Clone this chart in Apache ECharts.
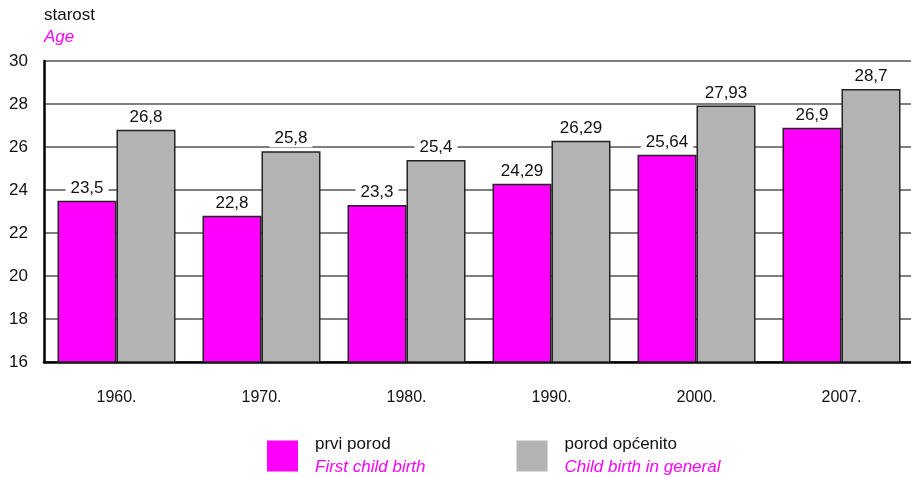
<!DOCTYPE html>
<html><head><meta charset="utf-8">
<script src="https://cdn.jsdelivr.net/npm/echarts@6/dist/echarts.min.js"></script>
<style>html,body{margin:0;padding:0;background:#fff}#c{width:911px;height:477px}</style>
</head><body><div id="c"></div>
<script>
const categories = ['1960.', '1970.', '1980.', '1990.', '2000.', '2007.'];
const firstBirth = [23.5, 22.8, 23.3, 24.29, 25.64, 26.9];
const birthGeneral = [26.8, 25.8, 25.4, 26.29, 27.93, 28.7];
const seriesNames = ['prvi porod', 'porod općenito'];
const seriesNamesEn = ['First child birth', 'Child birth in general'];
const yTicks = [16, 18, 20, 22, 24, 26, 28, 30];

const FONT = '"Liberation Sans", Arial, sans-serif';
const chart = echarts.init(document.getElementById('c'));
const fmt = v => String(v).replace('.', ',');
const lbl = {
  show: true, position: 'top', distance: 4,
  fontFamily: FONT, fontSize: 17, color: '#111',
  backgroundColor: '#fff', padding: [1, 5, 0, 5],
  formatter: p => fmt(p.value)
};
chart.setOption({
  animation: false,
  textStyle: { fontFamily: FONT },
  graphic: [
    { type: 'text', left: 44, top: 7, style: { text: 'starost', font: '17px ' + FONT, fill: '#111' } },
    { type: 'text', left: 44, top: 29, style: { text: 'Age', font: 'italic 17px ' + FONT, fill: '#ff00ff' } }
  ],
  grid: { left: 44, width: 870, top: 61, bottom: 115, outerBoundsMode: 'none', containLabel: false },
  legend: {
    bottom: -4, left: 262, itemGap: 91, itemWidth: 31, itemHeight: 31,
    icon: 'rect',
    itemStyle: { borderWidth: 0 },
    data: seriesNames,
    formatter: name => {
      const i = seriesNames.indexOf(name);
      return '{a|' + name + '}\n{b|' + seriesNamesEn[i] + '}';
    },
    textStyle: {
      padding: [0, 0, 0, 12],
      rich: {
        a: { fontFamily: FONT, fontSize: 17, color: '#111', lineHeight: 23 },
        b: { fontFamily: FONT, fontSize: 17, color: '#ff00ff', fontStyle: 'italic', lineHeight: 23 }
      }
    }
  },
  xAxis: {
    type: 'category', data: categories,
    axisLine: { lineStyle: { color: '#000', width: 2.5 } },
    axisTick: { show: false },
    axisLabel: { margin: 28, fontFamily: FONT, fontSize: 16, color: '#111' }
  },
  yAxis: {
    type: 'value', min: 16, max: 30, interval: 2,
    axisLine: { show: true, lineStyle: { color: '#000', width: 2.5 } },
    axisTick: { show: false },
    axisLabel: { margin: 16, fontFamily: FONT, fontSize: 17, color: '#111',
      formatter: v => yTicks.includes(v) ? String(v) : '' },
    splitLine: { lineStyle: { color: '#555', width: 1.5 } }
  },
  series: [
    { name: seriesNames[0], type: 'bar', data: firstBirth, barWidth: 59, barGap: '0%',
      itemStyle: { color: '#ff00ff', borderColor: '#222', borderWidth: 1.5 }, label: lbl },
    { name: seriesNames[1], type: 'bar', data: birthGeneral, barWidth: 59,
      itemStyle: { color: '#b3b3b3', borderColor: '#222', borderWidth: 1.5 }, label: lbl }
  ]
});
</script></body></html>
